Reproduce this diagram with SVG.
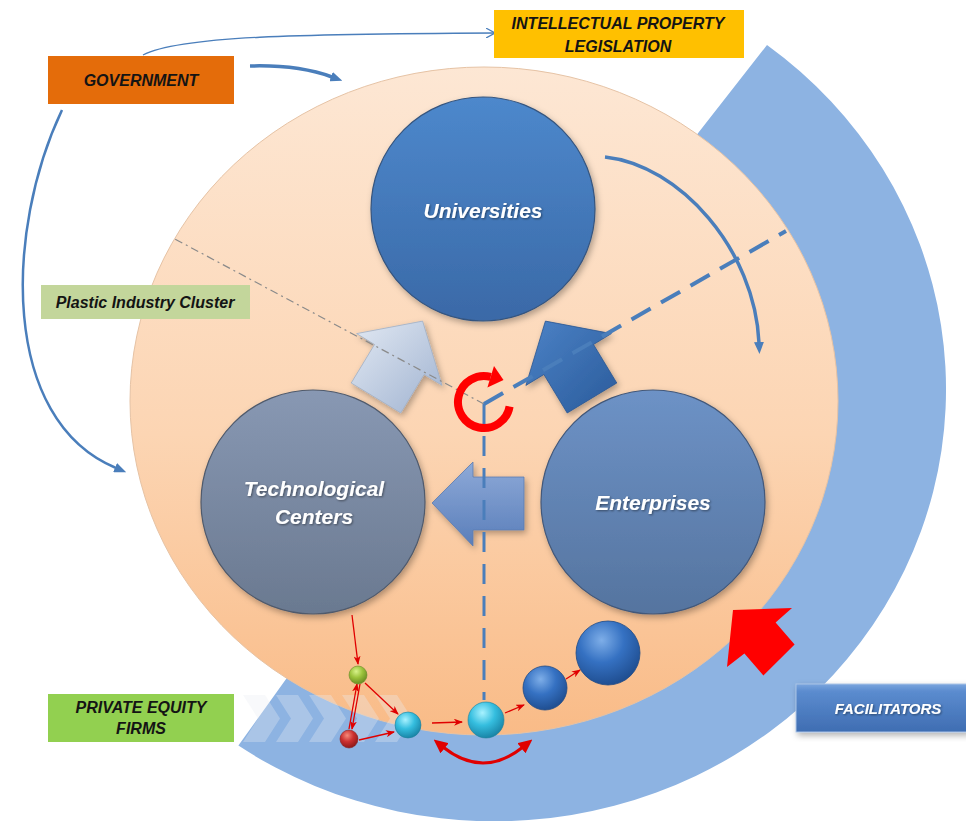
<svg xmlns="http://www.w3.org/2000/svg" width="966" height="821" viewBox="0 0 966 821">
<defs>
<style>
.lbl{font-family:"Liberation Sans",Arial,sans-serif;font-weight:bold;font-style:italic;text-anchor:middle}
.dark{fill:#141414;font-size:16px}
.white{fill:#ffffff;font-size:21px}
.redline{stroke:#e00000;stroke-width:1.3;fill:none;marker-end:url(#ahRedS)}
.blueconn{stroke:#4a7ebb;fill:none}
</style>
<linearGradient id="gPeach" x1="0" y1="0" x2="0" y2="1">
<stop offset="0" stop-color="#fde7d4"/>
<stop offset="0.55" stop-color="#fcd5b3"/>
<stop offset="1" stop-color="#f9bb87"/>
</linearGradient>
<linearGradient id="gUni" x1="0" y1="0" x2="0" y2="1">
<stop offset="0" stop-color="#4d88cc"/>
<stop offset="1" stop-color="#3a69a7"/>
</linearGradient>
<linearGradient id="gTech" x1="0" y1="0" x2="0" y2="1">
<stop offset="0" stop-color="#8898b3"/>
<stop offset="1" stop-color="#6a7990"/>
</linearGradient>
<linearGradient id="gEnt" x1="0" y1="0" x2="0" y2="1">
<stop offset="0" stop-color="#6d92c6"/>
<stop offset="1" stop-color="#55749f"/>
</linearGradient>
<linearGradient id="gLight" x1="0" y1="0" x2="1" y2="1">
<stop offset="0" stop-color="#e2e9f3"/>
<stop offset="1" stop-color="#9fb2d0"/>
</linearGradient>
<linearGradient id="gDark" x1="0" y1="0" x2="1" y2="1">
<stop offset="0" stop-color="#4c82c6"/>
<stop offset="1" stop-color="#2a5b9b"/>
</linearGradient>
<linearGradient id="gLeft" x1="0" y1="0" x2="0" y2="1">
<stop offset="0" stop-color="#8eaad8"/>
<stop offset="1" stop-color="#5a7eba"/>
</linearGradient>
<linearGradient id="gFac" x1="0" y1="0" x2="0" y2="1">
<stop offset="0" stop-color="#7aa5de"/>
<stop offset="0.15" stop-color="#5b8ccf"/>
<stop offset="1" stop-color="#3f6db2"/>
</linearGradient>
<radialGradient id="gCyan" cx="0.4" cy="0.3" r="0.7">
<stop offset="0" stop-color="#a8f2ff"/>
<stop offset="0.5" stop-color="#35bedf"/>
<stop offset="1" stop-color="#1a86a8"/>
</radialGradient>
<radialGradient id="gBlue" cx="0.4" cy="0.3" r="0.7">
<stop offset="0" stop-color="#7eaee8"/>
<stop offset="0.5" stop-color="#3571c2"/>
<stop offset="1" stop-color="#204f92"/>
</radialGradient>
<radialGradient id="gGreen" cx="0.4" cy="0.3" r="0.7">
<stop offset="0" stop-color="#d8f28a"/>
<stop offset="0.5" stop-color="#9cc33c"/>
<stop offset="1" stop-color="#6a8d22"/>
</radialGradient>
<radialGradient id="gRed" cx="0.4" cy="0.3" r="0.7">
<stop offset="0" stop-color="#f58a7a"/>
<stop offset="0.5" stop-color="#cc3030"/>
<stop offset="1" stop-color="#8e1a1a"/>
</radialGradient>
<filter id="shadow" x="-20%" y="-20%" width="140%" height="140%">
<feDropShadow dx="2" dy="3" stdDeviation="3" flood-color="#000" flood-opacity="0.3"/>
</filter>
<filter id="tshadow" x="-10%" y="-30%" width="120%" height="160%">
<feDropShadow dx="1" dy="1" stdDeviation="0.8" flood-color="#000" flood-opacity="0.45"/>
</filter>
<marker id="ahBlue" viewBox="0 0 12 10" refX="1" refY="5" markerWidth="12" markerHeight="10" markerUnits="userSpaceOnUse" orient="auto">
<path d="M0,0 L12,5 L0,10 Z" fill="#4a7ebb"/>
</marker>
<marker id="ahBlueOpen" viewBox="0 0 10 10" refX="9" refY="5" markerWidth="10" markerHeight="10" markerUnits="userSpaceOnUse" orient="auto">
<path d="M0,0 L9,5 L0,10" fill="none" stroke="#4a7ebb" stroke-width="1.2"/>
</marker>
<marker id="ahRedS" viewBox="0 0 9 7" refX="8" refY="3.5" markerWidth="9" markerHeight="7" markerUnits="userSpaceOnUse" orient="auto">
<path d="M0,0 L9,3.5 L0,7 L2.5,3.5 Z" fill="#e00000"/>
</marker>
<marker id="ahRedB" viewBox="0 0 14 13" refX="2" refY="6.5" markerWidth="14" markerHeight="13" markerUnits="userSpaceOnUse" orient="auto-start-reverse">
<path d="M0,0 L14,6.5 L0,13 Z" fill="#e00000"/>
</marker>
</defs>

<rect x="0" y="0" width="966" height="821" fill="#ffffff"/>

<g id="facilitators-band">
<path d="M767,45 A452,432 0 0 1 238.4,745.6 L313.3,641 A320,305 0 0 0 687.6,146.4 Z" fill="#8db3e2"/>
</g>

<g id="plastic-cluster-area">
<ellipse cx="484" cy="401" rx="354" ry="334" fill="url(#gPeach)" stroke="#e6c3a5" stroke-width="1"/>
</g>

<g id="chevrons" fill="#e8ecf4" fill-opacity="0.32">
<polygon points="243,695 265,695 280,718.5 265,742 243,742 258,718.5"/>
<polygon points="276,695 298,695 313,718.5 298,742 276,742 291,718.5"/>
<polygon points="309,695 331,695 346,718.5 331,742 309,742 324,718.5"/>
<polygon points="342,695 364,695 379,718.5 364,742 342,742 357,718.5"/>
<polygon points="375,695 397,695 412,718.5 397,742 375,742 390,718.5"/>
</g>

<g id="universities">
<circle cx="483" cy="209" r="112" fill="url(#gUni)" stroke="#35557f" stroke-width="1.2" filter="url(#shadow)"/>
<text class="lbl white" x="483" y="218" filter="url(#tshadow)">Universities</text>
</g>

<g id="technological-centers">
<circle cx="313" cy="502" r="112" fill="url(#gTech)" stroke="#4f5a6c" stroke-width="1.2" filter="url(#shadow)"/>
<text class="lbl white" x="314" y="496" filter="url(#tshadow)">Technological</text>
<text class="lbl white" x="314" y="524" filter="url(#tshadow)">Centers</text>
</g>

<g id="enterprises">
<circle cx="653" cy="502" r="112" fill="url(#gEnt)" stroke="#42587a" stroke-width="1.2" filter="url(#shadow)"/>
<text class="lbl white" x="653" y="510" filter="url(#tshadow)">Enterprises</text>
</g>

<g id="arrow-tech-to-uni">
<polygon points="351.2,383 374.5,344.5 356.6,333.6 422.6,321.1 442.1,385.4 424.1,374.5 400.8,413" fill="url(#gLight)" stroke="#a0aec4" stroke-width="0.8" filter="url(#shadow)"/>
</g>
<g id="arrow-ent-to-uni">
<polygon points="616.8,383 593.5,344.5 611.4,333.6 545.4,321.1 525.9,385.4 543.9,374.5 567.2,413" fill="url(#gDark)" stroke="#2a5590" stroke-width="0.8" filter="url(#shadow)"/>
</g>
<g id="arrow-ent-to-tech">
<polygon points="432,503 473,462 473,477 524,477 524,530 473,530 473,546" fill="url(#gLeft)" stroke="#5b7bb0" stroke-width="0.8" filter="url(#shadow)"/>
</g>

<g id="connectors">
<line x1="484" y1="404" x2="173" y2="238" stroke="#8a8a8a" stroke-width="1.2" stroke-dasharray="8 4 2 4"/>
<line x1="484" y1="404" x2="786" y2="231" stroke="#4a7ebb" stroke-width="4" stroke-dasharray="22 12"/>
<line x1="484" y1="404" x2="484" y2="700" stroke="#4a7ebb" stroke-width="3" stroke-dasharray="20 12"/>
<path class="blueconn" d="M605,157 C680,165 755,250 759,343" stroke-width="3.5" marker-end="url(#ahBlue)"/>
<path class="blueconn" d="M143,55 C180,36 300,34 495,33" stroke-width="1.3" marker-end="url(#ahBlueOpen)"/>
<path class="blueconn" d="M250,66 C285,65 310,69 332,77" stroke-width="3.5" marker-end="url(#ahBlue)"/>
<path class="blueconn" d="M62,110 C5,230 0,420 116,468" stroke-width="2.5" marker-end="url(#ahBlue)"/>
<path class="redline" d="M352,615 L358,664"/>
<path class="redline" d="M365,683 L398,714"/>
<path class="redline" d="M349,729 L357,684"/>
<path class="redline" d="M360,684 L352,729"/>
<path class="redline" d="M359,740 L394,732"/>
<path class="redline" d="M432,723 L462,722"/>
<path class="redline" d="M505,713 L524,705"/>
<path class="redline" d="M566,679 L580,670"/>
<path d="M443,747 Q483,779 523,747" fill="none" stroke="#e00000" stroke-width="3" marker-start="url(#ahRedB)" marker-end="url(#ahRedB)"/>
</g>

<g id="cycle-symbol">
<path d="M509.6,406.5 A26,26 0 1 1 490.7,376.9" fill="none" stroke="#ff0000" stroke-width="8"/>
<polygon points="494,366 487.4,387.6 503.5,380" fill="#ff0000"/>
</g>

<g id="green-ball"><circle cx="358" cy="675" r="9" fill="url(#gGreen)" stroke="#6a8a2a" stroke-width="0.6"/></g>
<g id="red-ball"><circle cx="349" cy="739" r="9" fill="url(#gRed)" stroke="#8a2020" stroke-width="0.6"/></g>
<g id="cyan-ball-1"><circle cx="408" cy="725" r="13" fill="url(#gCyan)" stroke="#1f7f9a" stroke-width="0.6"/></g>
<g id="cyan-ball-2"><circle cx="486" cy="720" r="18" fill="url(#gCyan)" stroke="#1f7f9a" stroke-width="0.6"/></g>
<g id="blue-ball-1"><circle cx="545" cy="688" r="22" fill="url(#gBlue)" stroke="#1f4a85" stroke-width="0.8"/></g>
<g id="blue-ball-2"><circle cx="608" cy="653" r="32" fill="url(#gBlue)" stroke="#1f4a85" stroke-width="0.8"/></g>

<g id="facilitator-arrow">
<polygon points="733,610 792,608 775.6,622.4 794.6,644.4 763.4,675.6 744.4,653.6 727,667" fill="#ff0000"/>
</g>

<g id="government">
<rect x="48" y="56" width="186" height="48" fill="#e46c0a"/>
<text class="lbl dark" x="141" y="86" font-size="17">GOVERNMENT</text>
</g>

<g id="ip-legislation">
<rect x="494" y="10" width="250" height="48" fill="#ffc000"/>
<text class="lbl dark" x="618" y="29">INTELLECTUAL PROPERTY</text>
<text class="lbl dark" x="618" y="52">LEGISLATION</text>
</g>

<g id="plastic-industry-cluster">
<rect x="41" y="285" width="209" height="34" fill="#c3d69b"/>
<text class="lbl dark" x="145" y="308" font-size="15">Plastic Industry Cluster</text>
</g>

<g id="private-equity-firms">
<rect x="48" y="694" width="186" height="48" fill="#92d050"/>
<text class="lbl dark" x="141" y="713">PRIVATE EQUITY</text>
<text class="lbl dark" x="141" y="734">FIRMS</text>
</g>

<g id="facilitators">
<rect x="796" y="684" width="172" height="48" fill="url(#gFac)" stroke="#a9c3e6" stroke-width="1" filter="url(#shadow)"/>
<text class="lbl" x="888" y="714" fill="#ffffff" font-size="15" filter="url(#tshadow)">FACILITATORS</text>
</g>
</svg>
